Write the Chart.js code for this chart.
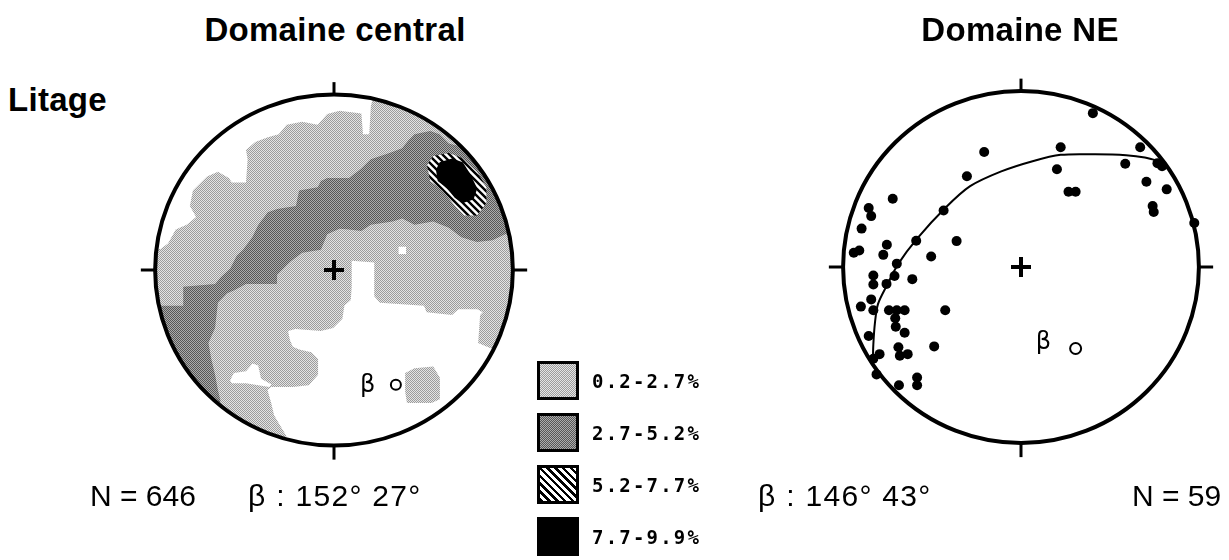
<!DOCTYPE html>
<html>
<head>
<meta charset="utf-8">
<title>Litage - Domaine central / Domaine NE</title>
<script src="https://cdn.jsdelivr.net/npm/chart.js@4.4.1/dist/chart.umd.min.js"></script>
<style>
  html, body { margin: 0; padding: 0; background: #fff; overflow: hidden; }
  body { width: 1229px; height: 560px; position: relative; font-family: "Liberation Sans", Arial, sans-serif; color: #000; }
  canvas { position: absolute; }
  .txt { position: absolute; white-space: nowrap; line-height: 30px; height: 30px; }
  .bold { font-weight: bold; font-size: 33px; letter-spacing: 0.3px; }
  .reg { font-size: 30px; }
  .wide { letter-spacing: 1.3px; }
  .center { text-align: center; width: 400px; }
  .key { position: absolute; left: 537px; width: 42px; height: 39px; box-sizing: border-box; border: 3px solid #000; }
  .keylabel { position: absolute; left: 592px; font: bold 19px "DejaVu Sans Mono", monospace; letter-spacing: 2.2px; line-height: 20px; }
</style>
</head>
<body>
<canvas id="netCentral" width="440" height="440" style="left:114px;top:50px"></canvas>
<canvas id="netNE" width="440" height="440" style="left:801px;top:47px"></canvas>
<div id="texts"></div>
<div id="legend"></div>
<script>
// stereonet coordinates: percent of the primitive radius, x east, y north

// Domaine central - contour classes (polygons, clipped to the net)
const centralBase = [[-110, -110], [110, -110], [110, 110], [-110, 110]];
const centralEmptyNW = [[-120, 12], [-97, 12], [-92.8, 15.1], [-88.5, 23.1], [-82.4, 25.8], [-77.1, 30.2], [-80.6, 36.4],
  [-78.9, 45.3], [-71.0, 53.3], [-64.9, 56.0], [-58.8, 52.4], [-57.1, 49.8], [-49.2, 49.8], [-48.3, 63.1], [-49.2, 68.4],
  [-44.0, 72.9], [-37.0, 75.6], [-30.9, 77.3], [-26.5, 82.7], [-17.8, 84.4], [-9.1, 82.7], [-3.8, 88.9], [3.1, 90.7],
  [15.3, 89.1], [16.2, 77.3], [19.7, 77.3], [20.6, 93.3], [22, 98.7], [22, 120], [-120, 120]];
const centralEmptySE = [[9.9, 5.3], [22.5, 4.3], [22.5, -14.9], [25.7, -18.7], [50.3, -20.3], [51.8, -24.0], [66.0, -25.6],
  [69.6, -22.4], [80.1, -22.4], [83.2, -24.0], [81.7, -25.6], [80.6, -41.6], [86.9, -44.3], [92.1, -45.9], [120, -46],
  [120, -120], [-27, -120], [-26.7, -94.4], [-28.3, -91.7], [-33.5, -82.7], [-35.1, -75.7], [-37.2, -68.3], [-35.1, -66.7],
  [-23.0, -66.7], [-14.1, -65.6], [-8.9, -59.7], [-8.9, -50.7], [-12.6, -46.9], [-19.4, -45.3], [-23.0, -43.7],
  [-24.6, -40.0], [-25.7, -34.7], [-21.5, -33.6], [-7.3, -34.7], [-0.5, -33.1], [4.7, -27.7], [5.8, -20.3], [9.4, -17.1],
  [9.9, -9.6], [9.9, -1.1]];
const centralEmptySW = [[-58.1, -62.9], [-56.0, -58.7], [-49.2, -57.6], [-45.5, -53.3], [-42.4, -54.4], [-40.8, -61.9],
  [-35.1, -65.1], [-36.1, -66.7], [-49.2, -64.5], [-57.1, -64.5]];
const centralEmptySpot = [[36.1, 13.3], [40.3, 13.3], [40.3, 9.1], [36.1, 9.1]];
const centralLowPatch = [[39.8, -58.7], [45.0, -56.0], [55.5, -54.9], [59.2, -61.3], [59.2, -73.6], [54.5, -75.7],
  [40.8, -75.7], [39.8, -69.3]];
const centralMid = [[107.9, 20.3], [95.7, 20.4], [88.6, 16.9], [79.9, 16.0], [71.2, 18.7], [64.2, 24.0], [55.5, 27.6],
  [45.0, 25.8], [38.1, 29.3], [32.8, 27.6], [20.6, 25.8], [15.3, 22.2], [8.4, 23.1], [3.1, 23.5], [-3.8, 20.4],
  [-7.3, 11.6], [-17.8, 9.8], [-24.8, 4.4], [-31.8, -2.7], [-31.9, -8.0], [-49.2, -8.0], [-56.0, -11.7], [-59.7, -13.3],
  [-64.9, -18.7], [-66.5, -33.1], [-70.2, -41.6], [-68.6, -50.7], [-66.5, -59.7], [-64.9, -68.3], [-63.4, -74.7],
  [-80, -90], [-120, -30], [-110, -20], [-99.0, -20.3], [-84.3, -20.3], [-84.3, -9.6], [-66.5, -8.0], [-63.4, -4.3],
  [-58.0, 0.9], [-54.5, 8.0], [-50.9, 11.6], [-45.7, 18.7], [-42.3, 25.8], [-37.0, 32.9], [-31.8, 34.7], [-21.3, 36.4],
  [-19.5, 45.3], [-9.1, 47.1], [-7.3, 50.7], [-3.8, 52.4], [8.4, 52.4], [15.3, 57.8], [20.6, 63.1], [31.0, 66.7],
  [38.1, 69.3], [41.5, 73.8], [45.0, 77.3], [53.8, 79.1], [59.0, 77.3], [64.2, 72.0], [74.7, 69.3], [84.3, 58.7], [110, 50]];
const centralHigh = [[52.0, 59.6], [55.5, 64.9], [64.2, 66.7], [71.2, 64.0], [79.9, 56.0], [85.2, 47.1], [85.2, 38.2],
  [79.9, 31.1], [72.9, 31.1], [67.7, 36.4], [60.7, 45.3], [53.8, 50.7]];
const centralMax = [[59.1, 61.4], [66.0, 63.5], [72.0, 61.4], [76.0, 55.0], [80.1, 46.4], [78.0, 40.1], [71.7, 38.0],
  [67.5, 41.1], [63.3, 46.4], [58.0, 50.7], [57.0, 57.1]];
const centralBeta = [[34.6, -65.4]];

// Domaine NE - poles to bedding, fitted great circle, beta axis
const nePoles = [[40.4, 87.4], [67.0, 68.0], [22.3, 68.0], [-20.7, 65.3], [20.2, 55.5], [58.6, 58.7], [76.7, 59.0],
  [79.3, 57.3], [70.5, 48.4], [81.9, 44.1], [26.7, 42.7], [30.7, 42.7], [74.0, 34.7], [74.6, 31.2], [97.4, 25.0],
  [-30.4, 51.6], [-72.1, 38.8], [-85.6, 33.5], [-84.2, 28.9], [-89.6, 21.8], [-94.0, 8.1], [-90.9, 9.4], [-75.4, 12.6],
  [-77.4, 6.9], [-43.5, 32.1], [-58.9, 14.9], [-36.2, 14.7], [-50.5, 6.0], [-69.8, 1.9], [-71.1, -5.1], [-61.1, -6.9],
  [-83.0, -4.8], [-83.0, -9.9], [-75.6, -9.6], [-84.2, -18.4], [-90.0, -22.5], [-83.0, -24.6], [-74.2, -24.6],
  [-69.8, -24.6], [-65.4, -24.6], [-42.6, -24.6], [-70.7, -29.1], [-70.4, -33.9], [-65.4, -37.4], [-85.6, -39.2],
  [-48.8, -45.1], [-68.9, -45.6], [-68.1, -50.4], [-63.7, -49.5], [-79.5, -49.5], [-83.0, -52.1], [-81.2, -61.0],
  [-68.6, -67.2], [-58.4, -62.8], [-58.4, -67.2]];
const neGreatCircle = [[80.2, 59.4], [69.6, 62.2], [59.1, 63.5], [41.6, 64.0], [22.3, 63.7], [6.5, 60.1], [-11.1, 54.3],
  [-28.6, 45.9], [-42.6, 33.5], [-58.4, 16.1], [-68.9, 1.9], [-75.4, -10.5], [-80.4, -21.1], [-82.1, -31.8],
  [-83.0, -44.1], [-83.3, -54.8]];
const neBeta = [[30.7, -46.3]];

// texts
const titles = ['Domaine central', 'Domaine NE'];
const sideLabel = 'Litage';
const centralStats = ['N = 646', 'β : 152° 27°'];
const neStats = ['β : 146° 43°', 'N = 59'];
const classLabels = ['0.2-2.7%', '2.7-5.2%', '5.2-7.7%', '7.7-9.9%'];

// ---------- fills ----------
function checker(a, b) {
  const c = document.createElement('canvas');
  c.width = 2; c.height = 2;
  const g = c.getContext('2d');
  g.fillStyle = a; g.fillRect(0, 0, 2, 2);
  g.fillStyle = b; g.fillRect(0, 0, 1, 1); g.fillRect(1, 1, 1, 1);
  return g.createPattern(c, 'repeat');
}
function hatch() {
  const s = 7;
  const c = document.createElement('canvas');
  c.width = s; c.height = s;
  const g = c.getContext('2d');
  g.fillStyle = '#fff'; g.fillRect(0, 0, s, s);
  g.strokeStyle = '#000'; g.lineWidth = 2.4;
  g.beginPath();
  g.moveTo(-1, -1); g.lineTo(s + 1, s + 1);
  g.moveTo(s - 1, -1); g.lineTo(s + 1, 1);
  g.moveTo(-1, s - 1); g.lineTo(1, s + 1);
  g.stroke();
  return g.createPattern(c, 'repeat');
}
const lowFill = checker('#e4e4e4', '#9c9c9c');
const midFill = checker('#acacac', '#575757');
const highFill = hatch();

// ---------- net plugin: clipping, primitive circle, ticks, labels ----------
function netPath(chart) {
  const { x, y } = chart.scales;
  const cx = x.getPixelForValue(0), cy = y.getPixelForValue(0);
  chart.ctx.beginPath();
  chart.ctx.ellipse(cx, cy, x.getPixelForValue(100) - cx, cy - y.getPixelForValue(100), 0, 0, Math.PI * 2);
}
const netPlugin = {
  id: 'net',
  beforeDatasetsDraw(chart, args, opts) {
    if (!opts.clip) return;
    chart.ctx.save();
    netPath(chart);
    chart.ctx.clip();
  },
  afterDatasetsDraw(chart, args, opts) {
    const { x, y } = chart.scales;
    const ctx = chart.ctx;
    if (opts.clip) ctx.restore();
    ctx.save();
    ctx.strokeStyle = '#000';
    ctx.lineWidth = 4;
    netPath(chart);
    ctx.stroke();
    ctx.lineWidth = 3;
    ctx.lineCap = 'butt';
    [[0, 100, 0, 107], [0, -100, 0, -108], [100, 0, 108, 0], [-100, 0, -108, 0]].forEach(t => {
      ctx.beginPath();
      ctx.moveTo(x.getPixelForValue(t[0]), y.getPixelForValue(t[1]));
      ctx.lineTo(x.getPixelForValue(t[2]), y.getPixelForValue(t[3]));
      ctx.stroke();
    });
    ctx.fillStyle = '#000';
    ctx.font = '24px "DejaVu Sans", sans-serif';
    ctx.textAlign = 'center';
    ctx.textBaseline = 'middle';
    (opts.labels || []).forEach(l => ctx.fillText(l.text, x.getPixelForValue(l.x), y.getPixelForValue(l.y)));
    ctx.restore();
  }
};

const pts = arr => arr.map(([x, y]) => ({ x, y }));
function region(arr, fill, order) {
  const d = pts(arr);
  d.push(d[0]);
  return { data: d, showLine: true, fill: 'shape', backgroundColor: fill, borderColor: 'transparent',
    borderWidth: 0, pointRadius: 0, tension: 0, order };
}
const centre = () => ({ data: [{ x: 0, y: 0 }], pointStyle: 'cross', pointRadius: 10, borderWidth: 4, borderColor: '#000', order: 0 });

function makeNet(id, hx, hy, datasets, labels, clip) {
  return new Chart(document.getElementById(id), {
    type: 'scatter',
    data: { datasets },
    options: {
      responsive: false,
      animation: false,
      devicePixelRatio: 1,
      layout: { padding: 0 },
      events: [],
      scales: {
        x: { type: 'linear', display: false, min: -hx, max: hx },
        y: { type: 'linear', display: false, min: -hy, max: hy }
      },
      plugins: { legend: { display: false }, tooltip: { enabled: false }, net: { labels, clip } }
    },
    plugins: [netPlugin]
  });
}

makeNet('netCentral', 115.18, 117.33, [
  region(centralBase, lowFill, 9),
  region(centralEmptyNW, '#fff', 8),
  region(centralEmptySE, '#fff', 8),
  region(centralEmptySW, '#fff', 8),
  region(centralEmptySpot, '#fff', 8),
  region(centralLowPatch, lowFill, 7),
  region(centralMid, midFill, 6),
  region(centralHigh, highFill, 5),
  region(centralMax, '#000', 4),
  { data: pts(centralBeta), pointRadius: 5, borderWidth: 2, borderColor: '#000', backgroundColor: '#fff', order: 1 },
  centre()
], [{ text: 'β', x: 18.8, y: -66.1 }], true);

makeNet('netNE', 115.79, 117.02, [
  { data: pts(neGreatCircle), showLine: true, pointRadius: 0, borderColor: '#000', borderWidth: 2, tension: 0.3, fill: false, order: 3 },
  { data: pts(nePoles), pointRadius: 5, borderWidth: 0, backgroundColor: '#000', order: 2 },
  { data: pts(neBeta), pointRadius: 5.5, borderWidth: 2, borderColor: '#000', backgroundColor: '#fff', order: 1 },
  centre()
], [{ text: 'β', x: 12.6, y: -43.3 }], false);

// ---------- texts ----------
const texts = document.getElementById('texts');
function addText(str, cls, left, midY, centered) {
  const d = document.createElement('div');
  d.className = 'txt ' + cls + (centered ? ' center' : '');
  d.textContent = str;
  d.style.left = (centered ? left - 200 : left) + 'px';
  d.style.top = (midY - 15) + 'px';
  texts.appendChild(d);
}
addText(titles[0], 'bold', 335, 30, true);
addText(titles[1], 'bold', 1020, 30, true);
addText(sideLabel, 'bold', 8, 100, false);
addText(centralStats[0], 'reg', 90, 496, false);
addText(centralStats[1], 'reg wide', 248, 496, false);
addText(neStats[0], 'reg wide', 758, 496, false);
addText(neStats[1], 'reg', 1132, 496, false);

// ---------- legend ----------
const legend = document.getElementById('legend');
const keyStyles = [
  'repeating-conic-gradient(#9c9c9c 0 25%, #e4e4e4 0 50%) 0 0 / 2px 2px',
  'repeating-conic-gradient(#575757 0 25%, #acacac 0 50%) 0 0 / 2px 2px',
  'repeating-linear-gradient(45deg, #000 0 2.5px, #fff 2.5px 5.5px)',
  '#000'
];
classLabels.forEach((lab, i) => {
  const top = 361 + i * 52;
  const k = document.createElement('div');
  k.className = 'key';
  k.style.top = top + 'px';
  k.style.background = keyStyles[i];
  legend.appendChild(k);
  const t = document.createElement('div');
  t.className = 'keylabel';
  t.style.top = (top + 10) + 'px';
  t.textContent = lab;
  legend.appendChild(t);
});
</script>
</body>
</html>
